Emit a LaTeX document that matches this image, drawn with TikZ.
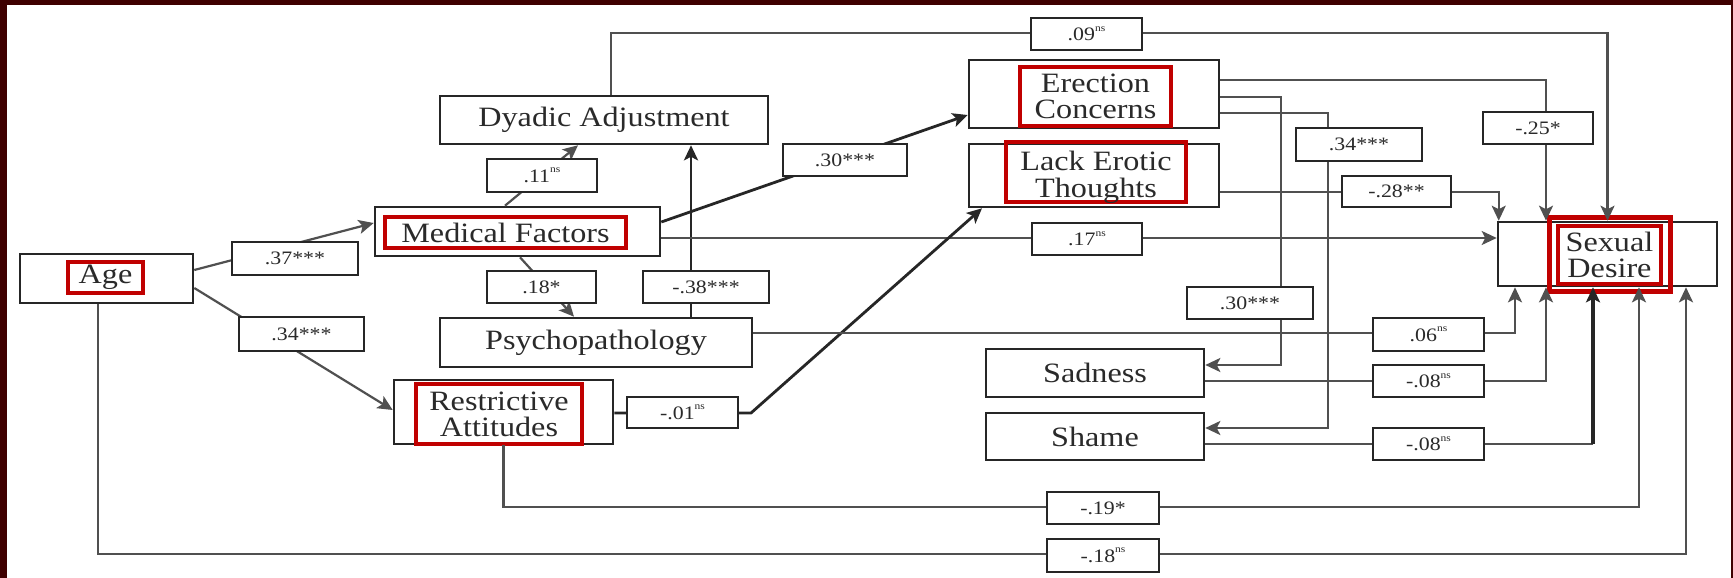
\documentclass[tikz,border=0pt]{standalone}
\usepackage{fontspec}
\setmainfont{Liberation Serif}[FakeStretch=1.15]
\usetikzlibrary{arrows.meta}
\definecolor{framec}{HTML}{3F0000}
\definecolor{boxc}{HTML}{262626}
\definecolor{linec}{HTML}{505050}
\definecolor{textc}{HTML}{2A2A2A}
\definecolor{redc}{HTML}{C00000}
\newcommand{\mainsz}{\fontsize{28}{26}\selectfont}
\newcommand{\labsz}{\fontsize{19}{20}\selectfont}
\newcommand{\nsup}{\raisebox{0.5em}{\fontsize{10}{10}\selectfont ns}}
\tikzset{
  box/.style={draw=boxc, line width=2.6pt, fill=white, inner sep=0pt, text=textc, font=\mainsz, align=center},
  hl/.style={draw=redc, line width=4pt, inner sep=0pt, text=textc, font=\mainsz, align=center},
  lab/.style={draw=boxc, line width=2.4pt, fill=white, inner sep=0pt, text=textc, font=\labsz},
  arr/.style={draw=linec, line width=2.2pt, -{Stealth[length=15pt,width=14pt,inset=3.5pt]}},
  arrk/.style={arr, draw=boxc, line width=2.8pt}
}
\begin{document}
\begin{tikzpicture}[x=1pt,y=-1pt]
\useasboundingbox (0,0) rectangle (1733,578);
\fill[framec] (0,0) rectangle (1733,578);
\fill[white] (7,5) rectangle (1731,578);

% main boxes
\node[box, minimum width=173pt, minimum height=49pt] (age) at (106.5,278.5) {};
\node[box, minimum width=285pt, minimum height=49pt] (mf) at (517.5,231.5) {};
\node[box, minimum width=328pt, minimum height=48pt] (dy) at (604,120) {Dyadic Adjustment};
\node[box, minimum width=312pt, minimum height=49pt] (ps) at (596,342.5) {Psychopathology};
\node[box, minimum width=219pt, minimum height=64pt] (ra) at (503.5,412) {};
\node[box, minimum width=250pt, minimum height=68pt] (ec) at (1094,94) {};
\node[box, minimum width=250pt, minimum height=63pt] (let) at (1094,175.5) {};
\node[box, minimum width=219pt, minimum height=64pt] (sd) at (1607.5,254) {};
\node[box, minimum width=218pt, minimum height=48pt] (sad) at (1095,373) {Sadness};
\node[box, minimum width=218pt, minimum height=47pt] (sh) at (1095,436.5) {Shame};

% red highlights
\node[hl, minimum width=75pt, minimum height=31pt] (ageh) at (105.5,277.5) {Age};
\node[hl, minimum width=241pt, minimum height=31pt] (mfh) at (505.5,232.5) {Medical Factors};
\node[hl, minimum width=166pt, minimum height=60pt] (rah) at (499,414) {Restrictive\\Attitudes};
\node[hl, minimum width=151pt, minimum height=59pt] (ech) at (1095.5,96.5) {Erection\\Concerns};
\node[hl, minimum width=180pt, minimum height=60pt] (leth) at (1096,172) {\raisebox{-12.5pt}[0pt][0pt]{\begin{tabular}{@{}c@{}}Lack Erotic\\[-1pt]Thoughts\end{tabular}}};
\node[hl, line width=5pt, minimum width=121pt, minimum height=74pt] (sdo) at (1610,254.5) {};
\node[hl, minimum width=103pt, minimum height=58pt] (sdh) at (1609.5,255) {Sexual\\Desire};

% helper coordinates
\coordinate (ytop) at (1100,33);
\coordinate (vsad) at (1281,300);
\coordinate (vsh) at (1328,300);
\coordinate (bend01) at (751,413);
\coordinate (y19) at (1000,507);
\coordinate (y18) at (1000,554);
\coordinate (ysh) at (1593,444);

% connectors
\draw[arr] ([yshift=8.5pt]age.east) -- ([yshift=8.5pt]mf.west);
\draw[arr] ([yshift=-9.5pt]age.east) -- ([yshift=2pt]ra.west);
\draw[arr] ([xshift=-12.5pt]mf.north) -- ([xshift=-26pt]dy.south);
\draw[arr] ([xshift=2.5pt]mf.south) -- ([xshift=-22pt]ps.north);
\draw[arrk] ([xshift=95pt]ps.north) -- ([xshift=87pt]dy.south);
\draw[arrk] ([yshift=9.5pt]mf.east) -- ([yshift=-21pt]ec.west);
\draw[arr] ([yshift=-6.5pt]mf.east) -- ([yshift=16pt]sd.west);
\draw[arr] ([xshift=7pt]dy.north) |- (ytop) -| (sd.north);
\draw[arr] ([yshift=14pt]ec.east) -| ([xshift=-61.5pt]sd.north);
\draw[arr] ([yshift=-3pt]ec.east) -| (vsad) |- ([yshift=8pt]sad.east);
\draw[arr] ([yshift=-19pt]ec.east) -| (vsh) |- ([yshift=8.5pt]sh.east);
\draw[arr] ([yshift=-16.5pt]let.east) -| ([xshift=2pt]sd.north west);
\draw[arrk] ([yshift=-1pt]ra.east) -- (bend01) -- ([xshift=-112pt]let.south);
\draw[arr] ([yshift=9.5pt]ps.east) -| ([xshift=-92.5pt]sd.south);
\draw[arr] ([yshift=-8pt]sad.east) -| ([xshift=-61.5pt]sd.south);
\draw[draw=linec, line width=2.2pt] ([yshift=-7.5pt]sh.east) -- (ysh);
\draw[arr, draw=boxc, line width=3.6pt] (ysh) -- ([xshift=-14.5pt]sd.south);
\draw[arr] (ra.south) |- (y19) -| ([xshift=31.5pt]sd.south);
\draw[arr] ([xshift=-8.5pt]age.south) |- (y18) -| ([xshift=78.5pt]sd.south);

% coefficient labels
\node[lab, minimum width=126pt, minimum height=33pt] (l37) at (295,258.5) {.37***};
\node[lab, minimum width=125pt, minimum height=34pt] (l34a) at (301.5,334) {.34***};
\node[lab, minimum width=110pt, minimum height=33pt] (l11) at (542,175.5) {.11\nsup};
\node[lab, minimum width=109pt, minimum height=32pt] (l18a) at (541.5,287) {.18*};
\node[lab, minimum width=126pt, minimum height=32pt] (l38) at (706,287) {-.38***};
\node[lab, minimum width=124pt, minimum height=32pt] (l30a) at (845,160) {.30***};
\node[lab, minimum width=111pt, minimum height=31pt] (l01) at (682.5,412.5) {-.01\nsup};
\node[lab, minimum width=111pt, minimum height=32pt] (l09) at (1086.5,34) {.09\nsup};
\node[lab, minimum width=110pt, minimum height=32pt] (l17) at (1087,239) {.17\nsup};
\node[lab, minimum width=126pt, minimum height=33pt] (l34b) at (1359,144.5) {.34***};
\node[lab, minimum width=110pt, minimum height=32pt] (l25) at (1538,128) {-.25*};
\node[lab, minimum width=109pt, minimum height=31pt] (l28) at (1396.5,191.5) {-.28**};
\node[lab, minimum width=126pt, minimum height=32pt] (l30b) at (1250,303) {.30***};
\node[lab, minimum width=111pt, minimum height=33pt] (l06) at (1428.5,334.5) {.06\nsup};
\node[lab, minimum width=111pt, minimum height=32pt] (l08a) at (1428.5,381) {-.08\nsup};
\node[lab, minimum width=111pt, minimum height=32pt] (l08b) at (1428.5,444) {-.08\nsup};
\node[lab, minimum width=112pt, minimum height=32pt] (l19) at (1103,508) {-.19*};
\node[lab, minimum width=112pt, minimum height=33pt] (l18b) at (1103,555.5) {-.18\nsup};
\end{tikzpicture}
\end{document}
